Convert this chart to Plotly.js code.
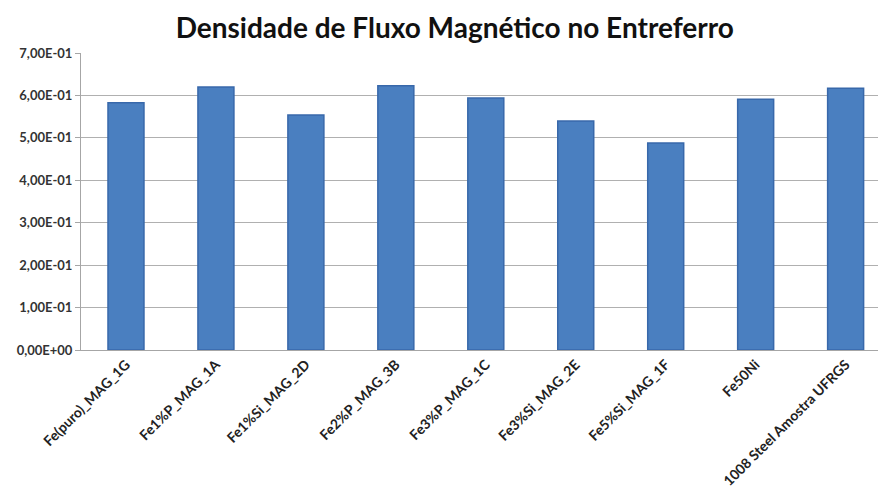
<!DOCTYPE html>
<html>
<head>
<meta charset="utf-8">
<script src="https://cdn.plot.ly/plotly-3.0.1.min.js"></script>
<style>html,body{margin:0;padding:0;background:#fff}#chart{width:878px;height:488px}</style>
</head>
<body>
<div id="chart"></div>
<script>
const categories = ["Fe(puro)_MAG_1G", "Fe1%P_MAG_1A", "Fe1%Si_MAG_2D", "Fe2%P_MAG_3B", "Fe3%P_MAG_1C", "Fe3%Si_MAG_2E", "Fe5%Si_MAG_1F", "Fe50Ni", "1008 Steel Amostra UFRGS"];
const values = [0.583, 0.620, 0.554, 0.623, 0.594, 0.540, 0.488, 0.591, 0.617];
const yTickVals = [0, 0.1, 0.2, 0.3, 0.4, 0.5, 0.6, 0.7];
const yTickText = ["0,00E+00", "1,00E-01", "2,00E-01", "3,00E-01", "4,00E-01", "5,00E-01", "6,00E-01", "7,00E-01"];

const trace = {
  type: 'bar',
  x: categories,
  y: values,
  marker: {color: '#4a7fc0', line: {color: '#3868aa', width: 1.5}},
  hoverinfo: 'x+y'
};

const layout = {
  width: 878, height: 488,
  margin: {l: 81, r: 0, t: 53, b: 138},
  paper_bgcolor: '#ffffff', plot_bgcolor: '#ffffff',
  bargap: 0.6,
  showlegend: false,
  font: {family: 'Lato, "Open Sans", sans-serif', color: '#222'},
  title: {
    text: '<b>Densidade de Fluxo Magnético no Entreferro</b>',
    font: {family: 'Lato, "Open Sans", sans-serif', size: 28, color: '#111'},
    x: 0.518, xanchor: 'center', y: 0.943, yanchor: 'middle'
  },
  xaxis: {
    type: 'category',
    range: [-0.5, 8.36],
    tickangle: -45,
    tickfont: {size: 14, color: '#222', family: 'Lato, "Open Sans", sans-serif', weight: 'bold'},
    showgrid: false,
    showline: true, linecolor: '#a6a6a6', linewidth: 1,
    ticks: '', zeroline: false
  },
  yaxis: {
    range: [0, 0.7],
    tickvals: yTickVals,
    ticktext: yTickText,
    tickfont: {size: 13, color: '#333', family: 'Lato, "Open Sans", sans-serif', weight: 'bold'},
    showgrid: true, gridcolor: '#b0b0b0', gridwidth: 1,
    showline: true, linecolor: '#a6a6a6', linewidth: 1,
    ticks: 'outside', ticklen: 5, tickcolor: '#a6a6a6',
    zeroline: false
  }
};

Plotly.newPlot('chart', [trace], layout, {displayModeBar: false, staticPlot: true});
</script>
</body>
</html>
